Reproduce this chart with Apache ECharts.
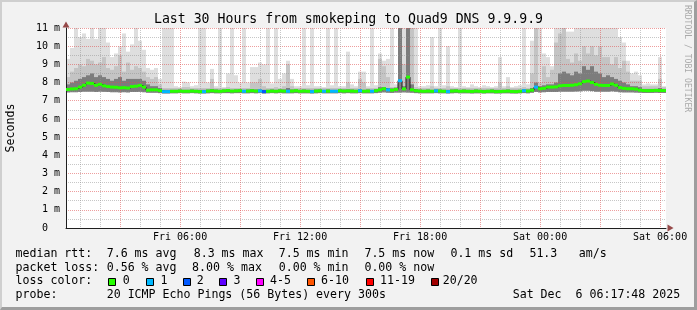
<!DOCTYPE html>
<html><head><meta charset="utf-8">
<script src="https://cdn.jsdelivr.net/npm/echarts@6/dist/echarts.min.js"></script>
<style>
html,body{margin:0;padding:0;background:#f2f2f2;}
#wrap{position:relative;width:697px;height:310px;overflow:hidden;}
#chart{width:697px;height:310px;}
#frame{position:absolute;left:0;top:0;width:697px;height:310px;box-sizing:border-box;
 border-top:2px solid #cfcfcf;border-left:2px solid #cfcfcf;border-right:3px solid #9e9e9e;border-bottom:3px solid #9e9e9e;pointer-events:none;}
</style></head>
<body><div id="wrap"><div id="chart"></div><div id="frame"></div></div>
<script>
// ---- time frame (hours since Fri 00:00) ----
const startHour = 17/60 + 48/3600;   // Fri 00:17:48
const stepHours = 0.2;               // one step = 12 minutes
const spanHours = 30;

// ---- median RTT (ms) per step ----
const median = [
 7.62,7.65,7.66,7.75,7.85,7.97,7.95,7.85,7.9,7.82,
 7.78,7.75,7.74,7.71,7.72,7.7,7.78,7.8,7.84,7.75,
 7.58,7.6,7.6,7.56,7.5,7.5,7.52,7.52,7.53,7.52,
 7.52,7.53,7.52,7.5,7.5,7.53,7.55,7.53,7.52,7.54,
 7.56,7.53,7.54,7.55,7.52,7.53,7.55,7.53,7.54,7.5,
 7.52,7.53,7.52,7.54,7.53,7.52,7.53,7.55,7.52,7.53,
 7.52,7.5,7.53,7.54,7.52,7.53,7.52,7.52,7.55,7.53,
 7.54,7.53,7.52,7.55,7.52,7.53,7.52,7.55,7.6,7.66,
 7.6,7.58,7.62,8.1,7.65,8.3,7.6,7.55,7.53,7.52,
 7.53,7.52,7.54,7.53,7.52,7.5,7.53,7.54,7.52,7.53,
 7.52,7.51,7.53,7.52,7.5,7.52,7.53,7.5,7.51,7.52,
 7.53,7.51,7.5,7.52,7.55,7.53,7.58,7.75,7.66,7.68,
 7.75,7.75,7.76,7.82,7.84,7.84,7.85,7.88,7.93,8.05,
 8.08,8.0,7.9,7.85,7.84,7.84,7.92,7.85,7.72,7.68,
 7.66,7.66,7.64,7.58,7.56,7.55,7.56,7.57,7.56,7.56];

// ---- lost pings (of 20) per step ----
const loss = [
 0,0,0,0,0,0,0,0,0,0,
 0,0,0,0,0,0,0,0,0,0,
 0,0,0,0,1,1,0,0,0,0,
 0,0,0,0,1,0,0,0,0,0,
 0,0,0,0,1,0,0,0,1,2,
 0,0,0,0,0,1,0,0,0,0,
 0,1,0,0,1,0,1,1,0,0,
 0,0,0,1,0,0,1,0,0,0,
 1,0,0,1,0,0,0,0,0,0,
 0,0,1,0,0,1,0,0,0,0,
 0,0,0,0,0,0,0,0,0,0,
 0,0,0,0,1,0,0,1,0,0,
 0,0,0,0,0,0,0,0,0,0,
 0,0,0,0,0,0,0,0,0,0,
 0,0,0,0,0,0,0,0,0,0];

// ---- smoke: ping spread per step (ms); values above 11 are clipped ----
const smokeMax = [
 9.3,9.9,14,10.5,10.7,10.4,14,10.4,14,14,
 10.2,9.4,9.6,10.0,10.7,9.7,10.1,14,10.3,9.8,
 8.8,8.7,8.8,8.2,14,14,14,7.8,7.75,8.05,
 8.0,7.8,7.85,14,14,8.0,8.75,7.8,14,7.75,
 8.5,14,8.4,8.0,14,8.0,8.85,8.85,9.1,9.0,
 14,7.95,14,8.2,8.5,9.2,8.2,7.8,7.8,14,
 7.85,14,7.8,7.8,7.75,14,7.85,14,7.8,7.8,
 9.7,7.9,7.8,8.6,8.6,7.8,14,7.85,9.6,9.2,
 9.3,14,7.9,14,14,14,14,14,7.8,7.8,
 7.85,10.5,7.8,14,7.85,10.0,7.8,7.75,14,7.8,
 7.75,7.9,7.8,7.75,7.85,7.8,7.75,7.8,9.4,7.8,
 8.3,7.75,7.8,7.85,14,7.9,10.3,14,14,9.6,
 9.4,8.9,14,14,14,10.8,10.8,14,14,14,
 14,14,14,14,14,14,14,14,10.5,10.2,
 9.2,8.5,8.6,8.4,7.9,7.95,7.9,7.9,9.4,7.8];
const smokeHigh = [
 8.3,8.6,8.8,9.0,8.9,9.3,9.2,9.0,9.1,9.4,
 8.8,8.7,8.9,9.5,8.6,9.1,8.7,8.9,8.8,8.6,
 8.3,8.2,8.3,7.9,7.7,7.7,7.7,7.7,7.7,7.75,
 7.75,7.7,7.7,7.7,7.7,7.7,8.2,7.7,7.7,7.7,
 7.75,7.7,7.7,7.7,7.7,7.7,8.0,8.0,8.2,7.8,
 7.7,7.7,7.75,7.7,7.8,9.0,7.8,7.7,7.7,7.7,
 7.7,7.7,7.7,7.7,7.7,7.7,7.7,7.7,7.7,7.7,
 8.0,7.7,7.7,8.2,8.0,7.7,7.7,7.7,9.3,8.9,
 8.3,7.75,7.75,14,9.0,14,14,7.75,7.7,7.7,
 7.7,7.8,7.7,7.7,7.7,7.8,7.7,7.7,7.7,7.7,
 7.7,7.7,7.7,7.7,7.7,7.7,7.7,7.7,8.0,7.7,
 7.8,7.7,7.7,7.7,7.75,7.7,8.5,14,8.0,8.9,
 8.3,8.7,10.2,10.7,14,9.3,9.1,9.6,9.2,10.0,
 9.6,10.0,9.5,10.0,9.4,9.4,9.0,9.4,8.8,9.2,
 8.6,8.1,8.1,8.1,7.8,7.8,7.8,7.8,8.2,7.75];
const smokeCore = [
 7.9,8.0,8.1,8.2,8.3,8.4,8.5,8.3,8.4,8.3,
 8.2,8.1,8.2,8.3,8.1,8.2,8.2,8.2,8.2,8.1,
 7.9,7.8,7.8,7.7,7.6,7.6,7.6,7.6,7.62,7.6,
 7.6,7.62,7.6,7.6,7.6,7.62,7.65,7.62,7.6,7.62,
 7.64,7.6,7.62,7.63,7.6,7.62,7.64,7.62,7.63,7.6,
 7.6,7.62,7.6,7.63,7.62,7.7,7.62,7.63,7.6,7.62,
 7.6,7.6,7.62,7.63,7.6,7.62,7.6,7.6,7.63,7.62,
 7.63,7.62,7.6,7.64,7.6,7.62,7.6,7.64,7.75,7.75,
 7.7,7.68,7.72,14,7.8,14,7.9,7.64,7.62,7.6,
 7.62,7.6,7.63,7.62,7.6,7.6,7.62,7.63,7.6,7.62,
 7.6,7.6,7.62,7.6,7.6,7.6,7.62,7.6,7.6,7.6,
 7.62,7.6,7.6,7.6,7.64,7.62,7.7,8.0,7.8,7.85,
 7.9,7.9,8.0,8.5,8.6,8.5,8.4,8.6,8.5,8.9,
 8.7,8.9,8.6,8.5,8.3,8.4,8.3,8.2,8.1,8.0,
 7.9,7.8,7.8,7.75,7.65,7.65,7.65,7.65,7.7,7.65];
const smokeMin = [
 7.46,7.47,7.47,7.48,7.5,7.5,7.5,7.48,7.5,7.49,
 7.48,7.47,7.47,7.46,7.47,7.46,7.48,7.48,7.49,7.47,
 7.44,7.44,7.44,7.42,7.4,7.4,7.41,7.41,7.42,7.41,
 7.41,7.42,7.41,7.4,7.4,7.41,7.42,7.41,7.41,7.42,
 7.42,7.41,7.42,7.42,7.41,7.41,7.42,7.41,7.42,7.4,
 7.41,7.42,7.41,7.42,7.41,7.41,7.41,7.42,7.41,7.41,
 7.41,7.4,7.41,7.42,7.41,7.41,7.41,7.41,7.42,7.41,
 7.42,7.41,7.41,7.42,7.41,7.41,7.41,7.42,7.44,7.46,
 7.44,7.43,7.45,7.45,7.46,7.45,7.44,7.42,7.41,7.41,
 7.41,7.41,7.42,7.41,7.41,7.4,7.41,7.42,7.41,7.41,
 7.41,7.4,7.41,7.41,7.4,7.41,7.41,7.4,7.4,7.41,
 7.41,7.4,7.4,7.41,7.42,7.41,7.44,7.48,7.46,7.47,
 7.48,7.48,7.48,7.5,7.5,7.5,7.5,7.51,7.52,7.55,
 7.55,7.53,7.5,7.5,7.5,7.5,7.52,7.5,7.47,7.46,
 7.46,7.46,7.45,7.44,7.43,7.43,7.43,7.44,7.43,7.43];

// ---- axis ticks ----
const yTickLabels = ['0  ','1 m','2 m','3 m','4 m','5 m','6 m','7 m','8 m','9 m','10 m','11 m'];
const xGridHours = [1,2,3,4,5,6,7,8,9,10,11,12,13,14,15,16,17,18,19,20,21,22,23,24,25,26,27,28,29,30];
const xLabelHours = [6,12,18,24,30];
const xTickLabels = ['Fri 06:00','Fri 12:00','Fri 18:00','Sat 00:00','Sat 06:00'];

// ---- texts ----
const titleText = 'Last 30 Hours from smokeping to Quad9 DNS 9.9.9.9';
const rowLabels = ['median rtt:', 'packet loss:', 'loss color:', 'probe:'];
const rttStats = ['7.6 ms avg','8.3 ms max','7.5 ms min','7.5 ms now','0.1 ms sd','51.3','am/s'];
const lossStats = ['0.56 % avg','8.00 % max','0.00 % min','0.00 % now'];
const lossLegend = ['0','1','2','3','4-5','6-10','11-19','20/20'];
const lossLegendColors = ['#26ff00','#00b8ff','#0059ff','#5e00ff','#ff00ff','#ff5500','#ff0000','#a10000'];
const probeText = '20 ICMP Echo Pings (56 Bytes) every 300s';
const stampText = 'Sat Dec  6 06:17:48 2025';
const watermark = 'RRDTOOL / TOBI OETIKER';

// ---- layout ----
const FONT = 'DejaVu Sans Mono';
const rowY = [253.8, 267.6, 281.4, 295.2];
const rttX = [106.7, 193.7, 278.7, 364.4, 450.4, 529.4, 578.7];
const lossX = [106.7, 192.1, 278.7, 364.4];
const swatchX = [108, 146, 183, 219, 256, 307, 366, 431];
const swatchTextX = [122.7, 160.4, 196.7, 233.4, 270.1, 321.1, 380.1, 442.7];

function lossColor(n) {
  if (n <= 0) return lossLegendColors[0];
  if (n === 1) return lossLegendColors[1];
  if (n === 2) return lossLegendColors[2];
  if (n === 3) return lossLegendColors[3];
  if (n <= 5) return lossLegendColors[4];
  if (n <= 10) return lossLegendColors[5];
  if (n <= 19) return lossLegendColors[6];
  return lossLegendColors[7];
}

function bandSeries(hiArr, loArr, color) {
  return {
    type: 'custom', z: 1, clip: true, silent: true,
    data: hiArr.map((h, i) => [startHour + i * stepHours, loArr[i], h]),
    encode: {x: 0, y: [1, 2]},
    renderItem: function (params, api) {
      const x0 = api.value(0);
      const p1 = api.coord([x0, api.value(2)]);
      const p2 = api.coord([x0 + stepHours, api.value(1)]);
      return {type: 'rect', shape: {x: p1[0], y: p1[1], width: p2[0] - p1[0], height: p2[1] - p1[1]},
        style: {fill: color}};
    }
  };
}

const graphics = [];
function txt(s, x, y, size, fill) {
  graphics.push({type: 'text', x: x, y: y, silent: true,
    style: {text: s, fontFamily: FONT, fontSize: size || 11.6, fill: fill || '#000', align: 'left', verticalAlign: 'middle'}});
}
rowLabels.forEach((s, k) => txt(s, 15.5, rowY[k]));
rttStats.forEach((s, k) => txt(s, rttX[k], rowY[0]));
lossStats.forEach((s, k) => txt(s, lossX[k], rowY[1]));
lossLegend.forEach((s, k) => {
  graphics.push({type: 'rect', silent: true, shape: {x: swatchX[k] + 0.5, y: 278.5, width: 7, height: 7},
    style: {fill: lossLegendColors[k], stroke: '#000', lineWidth: 1}});
  txt(s, swatchTextX[k], rowY[2]);
});
txt(probeText, 106.7, rowY[3]);
txt(stampText, 512.7, rowY[3]);
graphics.push({type: 'text', x: 687, y: 5, rotation: -Math.PI / 2, silent: true,
  style: {text: watermark, fontFamily: FONT, fontSize: 8.1, fill: '#a9a9a9', align: 'left', verticalAlign: 'middle'}});

const xMin = startHour, xMax = startHour + spanHours;
const lineData = median.map((m, i) => [startHour + i * stepHours, m]);
lineData.push([xMax, median[median.length - 1]]);

const chart = echarts.init(document.getElementById('chart'));
chart.setOption({
  animation: false,
  backgroundColor: '#f2f2f2',
  title: {text: titleText, left: 'center', top: 13, padding: 0,
    textStyle: {fontFamily: FONT, fontSize: 13.2, fontWeight: 'normal', color: '#000', lineHeight: 14}},
  grid: {left: 66, top: 28, width: 600, height: 200, show: true, backgroundColor: '#fff', borderWidth: 0,
    containLabel: false, outerBoundsMode: 'none'},
  xAxis: {
    type: 'value', min: xMin, max: xMax, z: 3,
    axisLine: {show: true, onZero: false, lineStyle: {color: '#1f1f1f', width: 1}},
    axisTick: {show: false, customValues: xGridHours},
    axisLabel: {customValues: xLabelHours, margin: 4, fontFamily: FONT, fontSize: 10, color: '#000',
      formatter: v => xTickLabels[xLabelHours.indexOf(Math.round(v))] || ''},
    splitLine: {show: true, lineStyle: {type: 'dotted', width: 1,
      color: ['rgba(143,143,143,0.5)', 'rgba(143,143,143,0.5)', 'rgba(222,79,79,0.55)']}}
  },
  yAxis: {
    type: 'value', min: 0, max: 11, interval: 0.5, z: 3,
    name: 'Seconds', nameLocation: 'middle', nameGap: 49.5,
    nameTextStyle: {fontFamily: FONT, fontSize: 11.6, color: '#000'},
    axisLine: {show: true, lineStyle: {color: '#1f1f1f', width: 1}},
    axisTick: {show: false},
    axisLabel: {interval: 0, margin: 6, fontFamily: FONT, fontSize: 10, color: '#000',
      formatter: v => (Math.abs(v - Math.round(v)) < 1e-6 ? yTickLabels[Math.round(v)] : '')},
    splitLine: {show: true, lineStyle: {type: 'dotted', width: 1,
      color: ['rgba(222,79,79,0.55)', 'rgba(143,143,143,0.5)']}}
  },
  graphic: graphics,
  series: [
    bandSeries(smokeMax, smokeMin, '#dedede'),
    bandSeries(smokeHigh, smokeMin, '#c4c4c4'),
    bandSeries(smokeCore, smokeMin, '#7c7c7c'),
    {type: 'line', step: 'end', z: 4, symbol: 'none', silent: true, clip: true,
      data: lineData, lineStyle: {color: '#1f1f1f', width: 1}},
    {type: 'custom', z: 5, clip: true, silent: true,
      data: median.map((m, i) => [startHour + i * stepHours, m, loss[i]]),
      encode: {x: 0, y: 1},
      renderItem: function (params, api) {
        const x0 = api.value(0), m = api.value(1);
        const a = api.coord([x0, m]);
        const b = api.coord([x0 + stepHours, m]);
        return {type: 'rect', shape: {x: a[0], y: a[1] - 1.5, width: b[0] - a[0], height: 3},
          style: {fill: lossColor(api.value(2))}};
      }},
    {type: 'scatter', z: 6, silent: true, clip: false, symbol: 'triangle', symbolSize: [7, 6],
      itemStyle: {color: '#801f1f'},
      data: [{value: [xMax, 0], symbolRotate: -90, symbolOffset: [4.5, 0]},
             {value: [xMin, 11], symbolRotate: 0, symbolOffset: [0, -3.5]}]}
  ]
});
</script>
</body></html>
